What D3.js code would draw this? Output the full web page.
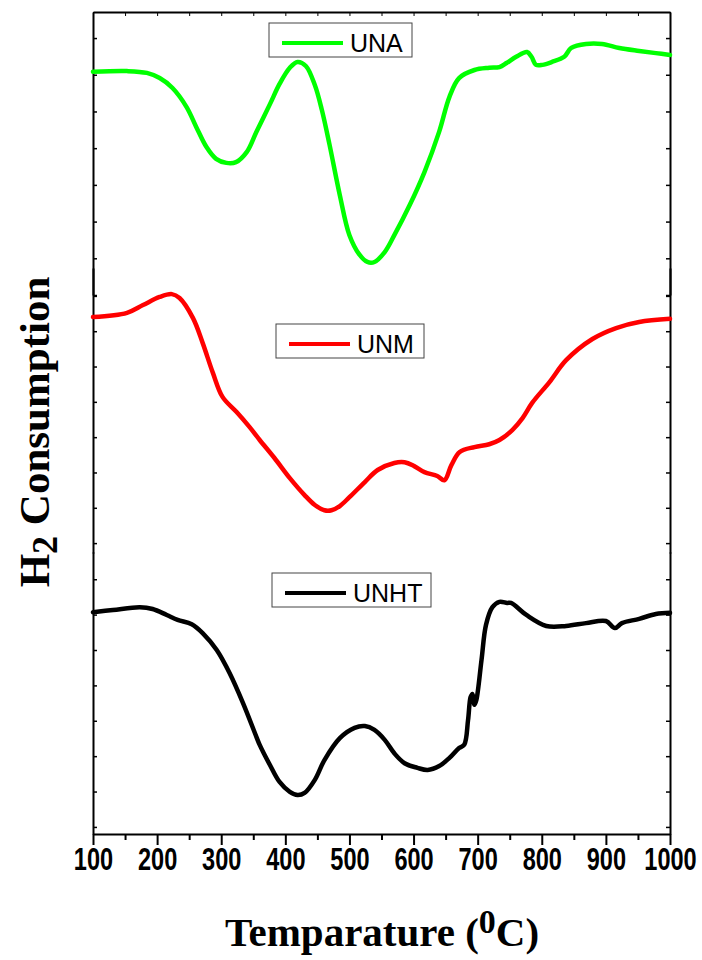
<!DOCTYPE html>
<meta charset="utf-8">
<script src="https://d3js.org/d3.v7.min.js"></script>
<style>
  body { margin: 0; background: #fff; }
</style>
<div id="tpr"></div>
<script>
// temperature axis ticks
var majorTicks = [100, 200, 300, 400, 500, 600, 700, 800, 900, 1000];
var minorTicks = [150, 250, 350, 450, 550, 650, 750, 850, 950];

// UNA - green, top layer (a.u.)
var unaTemp = [100,153,184,204,224,246,261,277,292,308,323,340,355,376,391,407,419,432,446,457,469,485,500,516,528,539,555,570,594,617,640,656,671,695,718,734,745,760,777,784,791,801,816,835,846,869,894,921,952,978,1000];
var unaH2   = [6.08,6.10,6.05,5.91,5.64,5.12,4.58,4.03,3.71,3.60,3.62,3.90,4.45,5.20,5.75,6.19,6.35,6.24,5.72,5.04,4.09,2.72,1.63,1.09,0.90,0.90,1.17,1.63,2.45,3.35,4.45,5.40,5.91,6.13,6.19,6.21,6.32,6.49,6.62,6.49,6.27,6.27,6.35,6.49,6.73,6.84,6.84,6.73,6.65,6.59,6.54];

// UNM - red, middle layer
var unmTemp = [100,153,178,204,223,235,256,271,287,302,324,344,360,383,407,430,446,461,472,485,500,524,544,570,586,601,617,637,648,659,672,695,718,734,754,770,785,812,838,879,916,952,1000];
var unmH2   = [6.40,6.52,6.74,6.97,7.05,6.94,6.37,5.67,4.82,4.14,3.71,3.29,2.92,2.41,1.84,1.36,1.08,0.93,0.93,1.05,1.30,1.73,2.07,2.27,2.29,2.18,2.01,1.90,1.78,2.21,2.58,2.72,2.80,2.92,3.20,3.54,3.97,4.56,5.18,5.78,6.09,6.26,6.35];

// UNHT - black, bottom layer
var unhtTemp = [100,131,173,193,215,232,254,271,293,313,334,355,360,376,391,407,419,430,446,461,485,508,524,539,555,570,586,606,622,640,656,671,679,685,689,692,695,698,706,713,723,734,746,752,776,807,838,869,900,914,925,952,978,1000];
var unhtH2   = [6.07,6.13,6.21,6.16,5.99,5.85,5.73,5.48,5.00,4.35,3.50,2.54,2.32,1.75,1.27,0.99,0.90,0.96,1.33,1.89,2.51,2.80,2.85,2.74,2.46,2.08,1.80,1.67,1.61,1.72,1.95,2.23,2.32,3.02,3.67,3.76,3.45,3.59,4.72,5.71,6.21,6.36,6.33,6.33,5.99,5.68,5.68,5.76,5.82,5.62,5.76,5.88,6.02,6.05];

var yTicks = [0, 1, 2, 3, 4, 5, 6, 7];

var W = 702, H = 960;
var left = 93, right = 670;

var svg = d3.select("#tpr")
  .append("svg")
  .attr("width", W)
  .attr("height", H);

var x = d3.scaleLinear()
  .domain([100, 1000])
  .range([left, right]);

// stacked layers, each with its own y scale
var layers = [
  { name: "UNA",  color: "#00ff00", temp: unaTemp,  h2: unaH2,  top: 12,  bottom: 295, domain: [0, 7.71],
    box: { x: 269, y: 23, w: 143 } },
  { name: "UNM",  color: "#ff0000", temp: unmTemp,  h2: unmH2,  top: 268, bottom: 553, domain: [-0.28, 7.79],
    box: { x: 276, y: 324, w: 148 } },
  { name: "UNHT", color: "#000000", temp: unhtTemp, h2: unhtH2, top: 552, bottom: 834, domain: [-0.2, 7.77],
    box: { x: 272, y: 573, w: 159 } }
];

layers.forEach(function(L) {
  var y = d3.scaleLinear()
    .domain(L.domain)
    .range([L.bottom, L.top]);

  // left + right axes, ticks pointing in
  var yl = svg.append("g")
    .attr("transform", "translate(" + left + ",0)")
    .call(d3.axisLeft(y).tickValues(yTicks).tickSizeInner(-4).tickSizeOuter(0).tickFormat(""));
  var yr = svg.append("g")
    .attr("transform", "translate(" + right + ",0)")
    .call(d3.axisRight(y).tickValues(yTicks).tickSizeInner(-4).tickSizeOuter(0).tickFormat(""));
  [yl, yr].forEach(function(g) {
    g.select(".domain").attr("stroke-width", 2);
    g.selectAll(".tick line").attr("stroke-width", 1.5);
  });

  // the curve
  var pts = L.temp.map(function(t, i) { return [t, L.h2[i]]; });
  svg.append("path")
    .datum(pts)
    .attr("fill", "none")
    .attr("stroke", L.color)
    .attr("stroke-width", 4.5)
    .attr("stroke-linejoin", "round")
    .attr("stroke-linecap", "round")
    .attr("d", d3.line()
      .curve(d3.curveCatmullRom.alpha(0.5))
      .x(function(d) { return x(d[0]); })
      .y(function(d) { return y(d[1]); }));

  // legend box
  var lg = svg.append("g").attr("transform", "translate(" + L.box.x + "," + L.box.y + ")");
  lg.append("rect")
    .attr("width", L.box.w)
    .attr("height", 34)
    .attr("fill", "#fff")
    .attr("stroke", "#444")
    .attr("stroke-width", 1);
  lg.append("line")
    .attr("x1", 13).attr("x2", 74)
    .attr("y1", 20).attr("y2", 20)
    .attr("stroke", L.color)
    .attr("stroke-width", 4);
  lg.append("text")
    .attr("x", 81)
    .attr("y", 29)
    .style("font-family", "'Liberation Sans', Arial, sans-serif")
    .style("font-size", "25px")
    .text(L.name);
});

// top border of the first layer
var xt = svg.append("g")
  .attr("transform", "translate(0,12)")
  .call(d3.axisTop(x).tickValues(majorTicks.concat(minorTicks)).tickSizeInner(-4).tickSizeOuter(0).tickFormat(""));
xt.select(".domain").attr("stroke-width", 2);

// bottom temperature axis
var xb = svg.append("g")
  .attr("transform", "translate(0,834)")
  .call(d3.axisBottom(x).tickValues(majorTicks).tickFormat(d3.format("d"))
    .tickSizeInner(11).tickSizeOuter(0).tickPadding(3));
xb.select(".domain").attr("stroke-width", 2);
xb.selectAll(".tick line").attr("stroke-width", 2);
xb.selectAll("text")
  .attr("fill", "#000")
  .attr("transform", "scale(0.76,1)")
  .style("font-family", "'Liberation Sans', Arial, sans-serif")
  .style("font-weight", "bold")
  .style("font-size", "31px");
svg.append("g")
  .attr("transform", "translate(0,834)")
  .call(d3.axisBottom(x).tickValues(minorTicks).tickSizeInner(6).tickSizeOuter(0).tickFormat(""))
  .call(function(g) { g.select(".domain").remove(); g.selectAll(".tick line").attr("stroke-width", 2); });

// axis titles
svg.append("text")
  .attr("x", 382)
  .attr("y", 946)
  .attr("text-anchor", "middle")
  .style("font-family", "'Liberation Serif', 'Times New Roman', serif")
  .style("font-weight", "bold")
  .style("font-size", "41px")
  .text("Temparature (")
  .append("tspan").attr("dy", -13).style("font-size", "34px").text("0")
  .select(function() { return this.parentNode; })
  .append("tspan").attr("dy", 13).text("C)");

svg.append("text")
  .attr("transform", "translate(49,432) rotate(-90)")
  .attr("text-anchor", "middle")
  .style("font-family", "'Liberation Serif', 'Times New Roman', serif")
  .style("font-weight", "bold")
  .style("font-size", "43px")
  .text("H")
  .append("tspan").attr("dy", 8).style("font-size", "36px").text("2")
  .select(function() { return this.parentNode; })
  .append("tspan").attr("dy", -8).text(" Consumption");
</script>
